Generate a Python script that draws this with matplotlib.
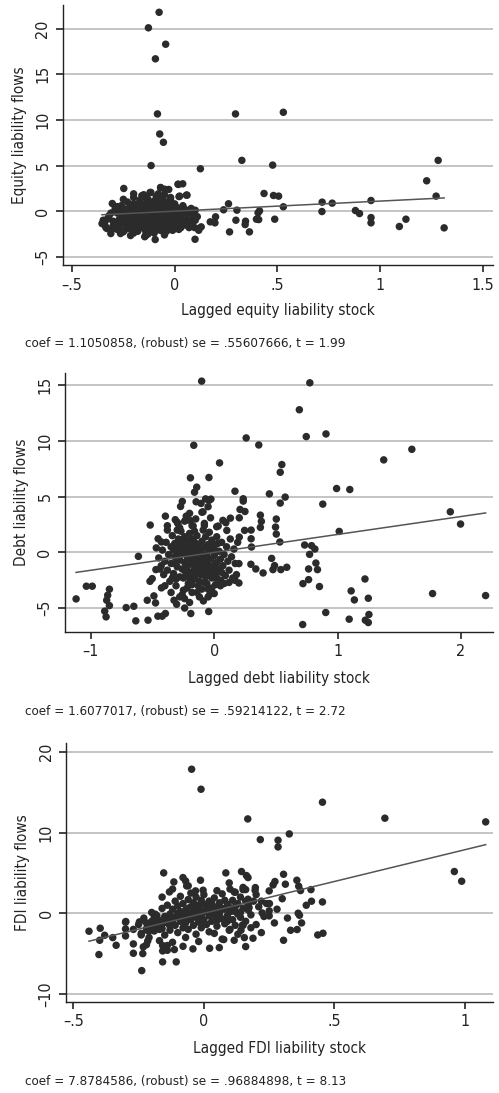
import numpy as np
import matplotlib
matplotlib.use('Agg')
from matplotlib import pyplot as plt
from matplotlib import font_manager as fm

# look for a condensed sans face (reference uses a condensed Myriad-like font)
narrow = None
for f in fm.fontManager.ttflist:
    nm = f.name + ' ' + str(f.fname)
    if ('Narrow' in nm or 'Condensed' in nm or 'condensed' in str(f.stretch)) \
            and f.style == 'normal' and f.weight in (400, 'normal', 'regular') \
            and 'Mono' not in nm and 'Serif' not in nm:
        narrow = f
        break

if narrow is not None:
    plt.rcParams['font.family'] = [narrow.name, 'DejaVu Sans']
    plt.rcParams['font.stretch'] = narrow.stretch
    fs_tick, fs_lab, fs_note = 11.5, 11, 9.6
else:
    plt.rcParams['font.family'] = ['Liberation Sans', 'DejaVu Sans']
    fs_tick, fs_lab, fs_note = 10.5, 10.5, 8.8

# ---- panel 1: equity ----
eq_x = [-0.076, -0.128, -0.044, -0.094, -0.084, -0.073, -0.055, -0.115, 0.125, 0.296,
        0.327, 0.477, 0.529, 1.283, 1.227, 1.273, 1.312, 1.094, 1.126, 0.956,
        0.956, 0.956, 0.880, 0.900, 0.767, 0.718, 0.717, 0.529, 0.487, 0.506,
        0.481, 0.435, 0.413, 0.406, 0.398, 0.409, 0.364, 0.345, 0.343, 0.298,
        0.303, 0.262, 0.267, 0.238, 0.199, 0.196, 0.173, 0.129, 0.117, 0.099,
        0.097, 0.039, 0.018, 0.024, 0.060, -0.029, -0.068, -0.120, -0.248, -0.095,
        -0.304, -0.354, -0.335, -0.311, -0.264, -0.215, -0.141, -0.34, -0.348, -0.33,
        -0.251, -0.146, 0.118, -0.069, -0.048, 0.016, -0.116, -0.151, -0.14, 0.021,
        0.057,
        -0.32, -0.30, -0.29, -0.28, -0.27, -0.26, -0.26, -0.25, -0.24, -0.24,
        -0.23, -0.23, -0.22, -0.22, -0.21, -0.21, -0.20, -0.20, -0.20, -0.19,
        -0.19, -0.18, -0.18, -0.18, -0.17, -0.17, -0.17, -0.16, -0.16, -0.16,
        -0.15, -0.15, -0.15, -0.14, -0.14, -0.14, -0.13, -0.13, -0.13, -0.12,
        -0.12, -0.12, -0.11, -0.11, -0.11, -0.10, -0.10, -0.10, -0.10, -0.09,
        -0.09, -0.09, -0.08, -0.08, -0.08, -0.07, -0.07, -0.07, -0.06, -0.06,
        -0.06, -0.05, -0.05, -0.05, -0.04, -0.04, -0.04, -0.03, -0.03, -0.03,
        -0.02, -0.02, -0.02, -0.01, -0.01, 0.00, 0.00, 0.00, 0.01, 0.01,
        0.02, 0.02, 0.03, 0.03, 0.04, 0.04, 0.05, 0.05, 0.06, 0.07,
        0.07, 0.08, 0.08, 0.09, 0.10, 0.10, 0.11,
        -0.22, -0.20, -0.15, -0.12, -0.09, -0.06, -0.03, -0.18, -0.24, -0.27,
        -0.13, -0.10, -0.07, -0.04, 0.02, -0.16, -0.11, -0.20, -0.28, -0.30,
        -0.33, -0.17, -0.25, -0.20, -0.14, -0.08, -0.05, -0.02,
        -0.31, -0.29, -0.27, -0.25, -0.23, -0.21, -0.19, -0.17, -0.15, -0.13,
        -0.11, -0.09, -0.07, -0.05, -0.03, -0.01, 0.01, 0.03, 0.05, 0.07,
        -0.30, -0.28, -0.26, -0.24, -0.22, -0.20, -0.18, -0.16, -0.14, -0.12,
        -0.10, -0.08, -0.06, -0.04, -0.02, 0.00, 0.02, 0.04, 0.06, 0.09,
        -0.27, -0.23, -0.19, -0.15, -0.11, -0.07, -0.03, 0.01, -0.25, -0.21,
        -0.17, -0.13, -0.09, -0.05, -0.01, 0.03]
eq_y = [21.8, 20.1, 18.3, 16.7, 10.66, 8.46, 7.55, 5.0, 4.65, 10.66,
        5.57, 5.05, 10.84, 5.57, 3.33, 1.65, -1.83, -1.68, -0.88, 1.17,
        -0.70, -1.28, 0.07, -0.26, 0.88, 0.99, -0.04, 0.48, -0.88, 1.65,
        1.72, 1.94, 0.04, -0.18, -0.88, -0.92, -2.27, -1.10, -1.47, -0.99,
        0.11, 0.81, -2.27, 0.15, -0.62, -1.28, -1.17, -1.72, -2.09, -3.08,
        -1.80, 3.0, 2.93, 1.65, 1.76, 2.38, 2.56, 2.05, 2.49, -3.11,
        0.84, -1.36, -1.80, -2.45, -2.45, -2.67, -2.67, -1.54, -0.99, -1.9,
        -2.27, -2.8, -1.9, 2.6, 2.4, 2.96, 2.05, 1.8, 1.5, 1.6,
        1.76,
        -0.5, -1.1, 0.3, -0.2, -1.6, -0.8, 0.6, -1.3, 0.1, -2.0,
        -0.5, 1.0, -1.0, 0.4, -1.7, -0.2, 0.8, -1.4, 1.5, -0.7,
        0.2, -2.2, -1.1, 0.6, -0.3, 1.2, -1.8, 0.0, -0.9, 1.7,
        -1.5, 0.4, -0.5, -2.3, 0.9, -1.2, -0.1, 1.3, -0.7, -1.9,
        0.3, -1.0, 0.7, -0.4, -1.5, 1.1, 0.0, -2.4, -0.8, -1.3,
        0.5, 1.6, -0.3, -1.7, 0.9, -0.9, 0.2, -2.1, -0.5, 1.3,
        -1.2, 0.1, -1.6, 0.7, -0.8, -2.2, 1.0, -0.2, -1.4, 0.5,
        -0.9, 1.5, -1.9, 0.2, -0.6, -1.2, 0.8, -0.1, -1.7, 0.4,
        -0.7, -2.0, 0.1, -1.1, 0.6, -0.4, -1.5, 0.2, -0.9, -0.2,
        -1.8, 0.3, -1.2, -0.5, 0.1, -1.0, -0.6,
        -1.9, -0.1, -1.9, -0.3, -0.1, -0.2, -0.4, -0.5, -1.0, 0.0,
        0.6, 0.3, 1.1, 0.3, 0.0, -1.3, -2.1, -2.4, -2.0, -1.6,
        -0.9, 0.9, 1.3, 1.9, 1.6, 1.9, 1.8, 1.2,
        -0.2, -1.4, -0.9, 0.3, -1.6, -0.6, -1.2, -0.1, -1.0, -1.6,
        -0.2, -0.6, -1.4, -0.4, -1.0, -1.5, -0.3, -0.5, -0.4, -1.3,
        -1.9, 0.5, -0.3, -0.6, 0.2, -1.1, 0.0, -0.4, -0.3, -1.4,
        -1.1, -0.6, 0.4, -1.2, -0.3, -1.6, -1.3, -1.0, -1.4, -0.8,
        -1.2, -1.5, -1.7, -0.8, -0.9, -1.5, -1.1, -0.8, -2.2, -2.0,
        -1.4, -2.5, -2.0, -2.6, -2.1, -1.8]

# ---- panel 2: debt ----
debt_x = [-0.102, 0.775, 0.69, 0.746, 0.906, 0.259, 0.361, -0.166, 0.043, 1.602,
          1.374, 0.992, 1.099, 0.880, 1.914, 1.997, 1.013, 2.20, 1.77, 1.222,
          1.11, 1.136, 1.249, 1.254, 1.225, 1.249, 1.094, 0.904, 0.717, 0.853,
          0.719, 0.765, 0.765, 0.773, 0.733, 0.789, 0.816, 0.824, 0.837, 0.535,
          0.575, 0.548, 0.535, 0.447, 0.374, 0.382, 0.374, 0.503, 0.497, 0.503,
          0.532, 0.299, 0.299, 0.302, 0.297, 0.337, 0.396, 0.465, 0.489, 0.476,
          0.540, 0.588, 0.235, 0.235, 0.168, 0.249, 0.209, 0.203, 0.246, 0.203,
          0.200, 0.168, 0.200, 0.131, 0.070, 0.094, 0.102, 0.032, -0.043, -0.043,
          -0.070, -0.027, -0.107, -0.091, -0.147, -0.142, -0.160, -0.193, -0.171, -0.193,
          -0.259, -0.273, -0.227, -0.233, -0.316, -0.294, -0.380, -0.396, -0.519, -0.615,
          -0.455, -0.428, -0.473, -0.521, -0.503, -0.428, -0.489, -0.476, -0.543, -0.457,
          -0.422, -0.396, -0.537, -0.636, -0.714, -0.652, -0.850, -0.864, -0.872, -0.850,
          -0.888, -0.877, -1.037, -0.989, -1.12, -0.326, -0.305, -0.241, -0.190, -0.045,
          -0.088, -0.035,
          -0.45, -0.43, -0.42, -0.41, -0.40, -0.39, -0.38, -0.37, -0.36, -0.35,
          -0.35, -0.34, -0.33, -0.32, -0.32, -0.31, -0.30, -0.30, -0.29, -0.28,
          -0.28, -0.27, -0.27, -0.26, -0.26, -0.25, -0.25, -0.24, -0.24, -0.23,
          -0.23, -0.22, -0.22, -0.21, -0.21, -0.20, -0.20, -0.20, -0.19, -0.19,
          -0.18, -0.18, -0.17, -0.17, -0.16, -0.16, -0.15, -0.15, -0.14, -0.14,
          -0.13, -0.13, -0.12, -0.12, -0.11, -0.11, -0.10, -0.10, -0.09, -0.09,
          -0.08, -0.08, -0.07, -0.07, -0.06, -0.06, -0.05, -0.05, -0.04, -0.04,
          -0.03, -0.03, -0.02, -0.02, -0.01, 0.00, 0.00, 0.01, 0.02, 0.02,
          0.03, 0.04, 0.05, 0.05, 0.06, 0.07, 0.08, 0.09, 0.10, 0.11,
          0.12, 0.13, 0.14, 0.15, 0.16, 0.17, 0.18, 0.19,
          -0.30, -0.28, -0.18, -0.15, -0.08, -0.03, 0.02, -0.12, -0.20, -0.28,
          -0.35, -0.40, 0.05, 0.08, 0.12, -0.05, 0.00, -0.24, -0.44, -0.47,
          -0.38, -0.10, -0.05, -0.20,
          -0.34, -0.32, -0.30, -0.28, -0.26, -0.24, -0.22, -0.20, -0.18, -0.16,
          -0.14, -0.12, -0.10, -0.08, -0.06, -0.04, -0.02, 0.00, 0.02, 0.04,
          -0.33, -0.31, -0.29, -0.27, -0.25, -0.23, -0.21, -0.19, -0.17, -0.15,
          -0.13, -0.11, -0.09, -0.07, -0.05, -0.03, -0.01, 0.01, 0.03, 0.06,
          -0.26, -0.22, -0.18, -0.14, -0.10, -0.06, -0.02, 0.02, -0.30, -0.24,
          -0.16, -0.08]
debt_y = [15.37, 15.22, 12.8, 10.39, 10.63, 10.27, 9.64, 9.61, 8.03, 9.25,
          8.30, 5.73, 5.64, 4.33, 3.64, 2.54, 1.88, -3.88, -3.70, -2.39,
          -3.46, -4.27, -4.12, -5.58, -6.09, -6.30, -6.0, -5.40, -6.48, -3.07,
          -2.81, -2.45, -1.49, -0.18, 0.66, 0.60, 0.30, -0.96, -1.55, 4.42,
          4.96, 7.88, 7.19, 5.25, 3.34, 2.78, 2.24, 2.99, 2.27, 1.64,
          0.93, 2.0, 1.22, 0.48, -1.07, -1.49, -1.85, -0.54, -1.19, -1.55,
          -1.55, -1.34, 4.81, 4.6, 5.49, 3.67, 3.85, 3.1, 1.97, 1.37,
          -1.01, -2.51, -2.75, 3.07, 2.87, 2.66, 1.97, 2.36, 6.72, 4.66,
          4.8, 4.78, 4.39, 3.64, 4.54, 5.85, 5.4, 6.69, 2.36, 2.84,
          4.57, 4.12, 3.25, 2.87, 2.93, 2.57, 2.39, 3.25, 2.45, -0.36,
          1.22, 0.93, -1.55, -2.6, -2.36, -3.19, -3.91, -4.54, -4.30, -5.73,
          -5.73, -5.49, -6.09, -6.15, -4.96, -4.84, -3.31, -3.85, -4.30, -4.78,
          -5.28, -5.79, -3.04, -3.04, -4.18, -4.30, -4.66, -4.15, -5.49, -5.31,
          -4.36, -3.76,
          -0.5, -1.2, 0.2, -2.0, -0.8, 0.9, -1.6, -0.2, -2.6, 0.5,
          -1.0, 1.5, -1.9, -0.4, 0.8, -3.0, -1.3, 0.1, 1.2, -0.7,
          -2.2, 0.5, 1.9, -1.5, -0.1, -3.4, 0.9, -0.9, 1.4, -2.0,
          0.3, -0.4, -1.3, 1.0, -2.8, 0.0, -0.8, 1.7, -1.8, 0.5,
          -3.6, -0.3, 1.2, -1.1, -2.4, 0.2, 0.8, -0.7, -1.6, 1.5,
          -0.2, -3.0, 0.6, -1.2, -2.0, 0.1, 1.0, -0.5, -1.5, 2.0,
          -2.7, 0.4, -0.9, 1.4, -1.9, -0.2, 0.7, -3.3, -1.2, 1.8,
          -0.6, 0.2, -2.3, 1.1, -1.4, -0.3, 0.6, -2.9, -0.9, 1.4,
          -1.7, 0.1, -0.6, -2.5, 0.9, -1.2, -0.2, -2.1, 0.5, -0.8,
          -1.6, 1.2, -0.4, -2.3, 0.3, -1.0, -2.0, 0.9,
          2.7, 2.2, 2.4, 3.0, 2.6, 3.1, 2.3, -4.0, -4.5, -4.0,
          -3.6, -3.0, -3.0, -2.8, -2.7, -4.0, -3.7, -5.0, -1.5, 0.4,
          2.0, 3.6, 4.1, 3.5,
          -2.3, -1.0, 0.6, -0.2, 0.3, -1.6, 0.7, -2.3, -0.9, -1.4,
          0.4, -2.6, -1.2, -0.4, 0.5, -0.6, -1.7, -2.1, 0.1, -1.5,
          0.2, -2.4, -0.5, 1.0, -2.3, -1.1, 0.0, 1.1, 0.0, -2.0,
          -1.0, -0.6, 0.4, -2.2, -1.3, -1.9, 0.5, -1.0, 0.8, -1.8,
          -3.8, -3.2, -2.9, -3.6, -3.3, -2.8, -3.2, -2.3, 2.0, 2.8,
          1.9, 2.4]

# ---- panel 3: FDI ----
fdi_x = [-0.047, -0.011, 0.454, 0.168, 0.693, 1.079, 0.327, 0.216, 0.284, 0.284,
         0.959, 0.987, 0.454, 0.412, 0.410, 0.392, 0.356, 0.363, 0.370, 0.361,
         0.366, 0.374, 0.357, 0.332, 0.305, 0.436, 0.456, 0.305, 0.312, 0.272,
         0.265, 0.250, 0.251, 0.250, 0.223, 0.144, 0.163, 0.169, 0.197, 0.196,
         0.150, 0.160, 0.169, 0.173, 0.188, 0.160, 0.155, 0.148, 0.142, 0.116,
         0.097, 0.076, 0.059, 0.022, -0.042, -0.106, -0.158, -0.238, -0.158, -0.158,
         -0.113, -0.140, -0.232, -0.215, -0.270, -0.270, -0.234, -0.336, -0.402, -0.349,
         -0.399, -0.397, -0.380, -0.440, -0.300, -0.300, -0.299, -0.247, -0.240, -0.218,
         -0.198, -0.186, -0.154, -0.115, -0.132, -0.080, -0.070, -0.066, -0.032, -0.013,
         -0.003, 0.084, 0.097, 0.116,
         -0.25, -0.24, -0.23, -0.22, -0.21, -0.20, -0.20, -0.19, -0.18, -0.18,
         -0.17, -0.17, -0.16, -0.16, -0.15, -0.15, -0.14, -0.14, -0.13, -0.13,
         -0.12, -0.12, -0.12, -0.11, -0.11, -0.10, -0.10, -0.10, -0.09, -0.09,
         -0.09, -0.08, -0.08, -0.08, -0.07, -0.07, -0.07, -0.06, -0.06, -0.06,
         -0.05, -0.05, -0.05, -0.04, -0.04, -0.04, -0.03, -0.03, -0.03, -0.02,
         -0.02, -0.02, -0.01, -0.01, -0.01, 0.00, 0.00, 0.00, 0.01, 0.01,
         0.02, 0.02, 0.02, 0.03, 0.03, 0.04, 0.04, 0.05, 0.05, 0.06,
         0.06, 0.07, 0.07, 0.08, 0.08, 0.09, 0.09, 0.10, 0.10, 0.11,
         0.11, 0.12, 0.12, 0.13, 0.14, 0.14, 0.15, 0.16, 0.17, 0.18,
         0.19, 0.20, 0.21, 0.22, 0.23, 0.24, 0.25,
         -0.30, -0.27, -0.22, -0.14, -0.19, -0.16, -0.12, -0.06, 0.05, 0.10,
         0.12, 0.15, -0.02, 0.04, 0.13, 0.18, 0.22, 0.27, 0.28, 0.30,
         0.32, 0.20, -0.08, 0.07,
         -0.22, -0.20, -0.18, -0.16, -0.14, -0.12, -0.10, -0.08, -0.06, -0.04,
         -0.02, 0.00, 0.02, 0.04, 0.06, 0.08, 0.10, 0.12, 0.14, 0.16,
         -0.21, -0.19, -0.17, -0.15, -0.13, -0.11, -0.09, -0.07, -0.05, -0.03,
         -0.01, 0.01, 0.03, 0.05, 0.07, 0.09, 0.11, 0.13, 0.15, 0.17]
fdi_y = [17.85, 15.37, 13.76, 11.69, 11.78, 11.32, 9.83, 9.13, 9.05, 8.22,
         5.17, 3.97, 1.40, 1.49, 2.93, 0.99, 4.09, 3.35, 2.81, 0.0,
         -0.25, -1.2, -2.02, -2.11, -3.35, -2.69, -2.48, 4.83, 3.6, 3.93,
         3.51, 2.77, 1.20, -0.33, 0.04, 5.17, 4.67, 4.42, 3.18, 2.85,
         2.93, 2.93, 1.74, 0.70, -3.10, -4.13, -3.02, -1.45, -2.11, -3.35,
         -2.11, -3.26, -4.26, -4.34, -4.42, -6.03, -6.03, -7.11, -4.0, -4.67,
         -4.5, -4.59, -4.17, -3.43, -3.80, -4.96, -5.0, -3.97, -5.12, -3.02,
         -3.35, -1.86, -2.73, -2.23, -2.81, -1.94, -1.03, -1.07, -2.69, -2.11,
         -1.36, -0.12, 5.0, 3.88, 2.64, 4.42, 4.0, 3.39, 2.77, 4.09,
         2.85, 5.0, 3.76, 2.64,
         -1.4, -2.5, -0.6, -1.9, -3.0, -1.0, 0.1, -2.2, -1.5, -0.3,
         -3.4, -0.9, 0.6, -1.9, -2.7, -0.4, -1.2, 1.0, -0.1, -2.1,
         -3.6, -0.8, 0.5, -1.5, 1.5, -0.3, -2.4, 0.9, -1.0, 0.2,
         2.1, -1.8, -0.5, 1.2, 0.4, -1.2, -3.0, -0.1, 1.7, -2.0,
         0.8, -0.8, 2.5, -1.5, 0.1, 1.3, -0.5, -2.6, 2.0, 0.5,
         -1.1, 1.0, -0.2, -1.8, 1.6, 0.3, -0.8, 2.3, -1.4, 0.9,
         -0.3, 1.5, -2.3, 0.4, -1.0, 1.9, -0.2, 0.8, -1.6, 0.0,
         1.3, -0.7, 2.4, 0.5, -1.3, 1.1, -0.3, -2.0, 0.7, 1.6,
         -0.8, 0.2, -1.5, 1.2, -0.5, 2.0, 0.6, -1.0, 1.0, -0.2,
         1.5, -1.4, 0.8, 1.5, -0.4, 1.2, 0.3,
         -1.1, -2.0, -3.9, -4.0, -0.2, 2.0, 3.0, 3.4, 2.8, 3.0,
         2.6, 3.2, -3.5, -2.5, -2.6, -1.8, -2.4, -1.2, 0.5, 1.8,
         -0.6, 2.3, -4.1, -3.2,
         -1.2, -1.8, -0.8, -1.3, -0.6, -1.1, 0.0, -0.2, 0.6, -0.3,
         0.0, 1.1, 0.7, 0.5, -0.6, 1.6, 0.2, 0.8, 0.1, 1.5,
         -2.2, -0.5, -2.0, -1.0, -1.6, -0.5, -0.6, -0.7, -0.4, 0.8,
         -1.0, 0.2, 1.2, -0.9, 0.6, -1.0, 0.3, -0.1, -1.5, 0.4]

coefs = [1.1050858, 1.6077017, 7.8784586]
notes = ['coef = 1.1050858, (robust) se = .55607666, t = 1.99',
         'coef = 1.6077017, (robust) se = .59214122, t = 2.72',
         'coef = 7.8784586, (robust) se = .96884898, t = 8.13']
ylabels = ['Equity liability flows', 'Debt liability flows', 'FDI liability flows']
xlabels = ['Lagged equity liability stock', 'Lagged debt liability stock', 'Lagged FDI liability stock']
xticks = [[-0.5, 0, 0.5, 1, 1.5], [-1, 0, 1, 2], [-0.5, 0, 0.5, 1]]
xticklabels = [['\u2013.5', '0', '.5', '1', '1.5'], ['\u20131', '0', '1', '2'], ['\u2013.5', '0', '.5', '1']]
yticks = [[-5, 0, 5, 10, 15, 20], [-5, 0, 5, 10, 15], [-10, 0, 10, 20]]
yticklabels = [['\u20135', '0', '5', '10', '15', '20'], ['\u20135', '0', '5', '10', '15'], ['\u201310', '0', '10', '20']]
xlims = [(-0.544, 1.55), (-1.21, 2.26), (-0.528, 1.107)]
ylims = [(-5.9, 22.6), (-7.15, 16.1), (-11.0, 21.1)]

# pixel boxes (left, top, right, bottom)
W, H = 499, 1093
boxes = [(63, 5, 493, 265), (65, 373, 493, 632), (66, 743, 493, 1002)]
note_y = [343, 712, 1082]
xlab_y = [310, 678, 1048]

fig = plt.figure(figsize=(W / 100, H / 100), dpi=100)
data = [(eq_x, eq_y), (debt_x, debt_y), (fdi_x, fdi_y)]
txt = '#222222'

for i in range(3):
    l, t, r, b = boxes[i]
    ax = fig.add_axes([l / W, 1 - b / H, (r - l) / W, (b - t) / H])
    x = np.array(data[i][0])
    y = np.array(data[i][1])
    for yt in yticks[i]:
        ax.axhline(yt, color='#c4c4c4', lw=1.4, zorder=0)
    ax.scatter(x, y, s=29, color='#2b2b2b', edgecolors='none', zorder=2)
    xs = np.array([x.min(), x.max()])
    ax.plot(xs, coefs[i] * xs, color='#555555', lw=1.1, zorder=3)
    ax.set_xlim(*xlims[i])
    ax.set_ylim(*ylims[i])
    ax.set_xticks(xticks[i])
    ax.set_xticklabels(xticklabels[i])
    ax.set_yticks(yticks[i])
    ax.set_yticklabels(yticklabels[i], rotation=90, va='center')
    for s in ['top', 'right']:
        ax.spines[s].set_visible(False)
    for s in ['left', 'bottom']:
        ax.spines[s].set_color('#222222')
        ax.spines[s].set_linewidth(1.0)
    ax.tick_params(length=5, width=1.2, color='#222222', labelsize=fs_tick, labelcolor=txt, pad=4)
    ax.set_ylabel(ylabels[i], fontsize=fs_lab, color=txt, labelpad=6)
    fig.text(((l + r) / 2) / W, 1 - xlab_y[i] / H, xlabels[i], ha='center', va='center',
             fontsize=fs_lab, color=txt)
    fig.text(25 / W, 1 - note_y[i] / H, notes[i], ha='left', va='center', fontsize=fs_note, color=txt)

fig.savefig('out.png', dpi=100)
